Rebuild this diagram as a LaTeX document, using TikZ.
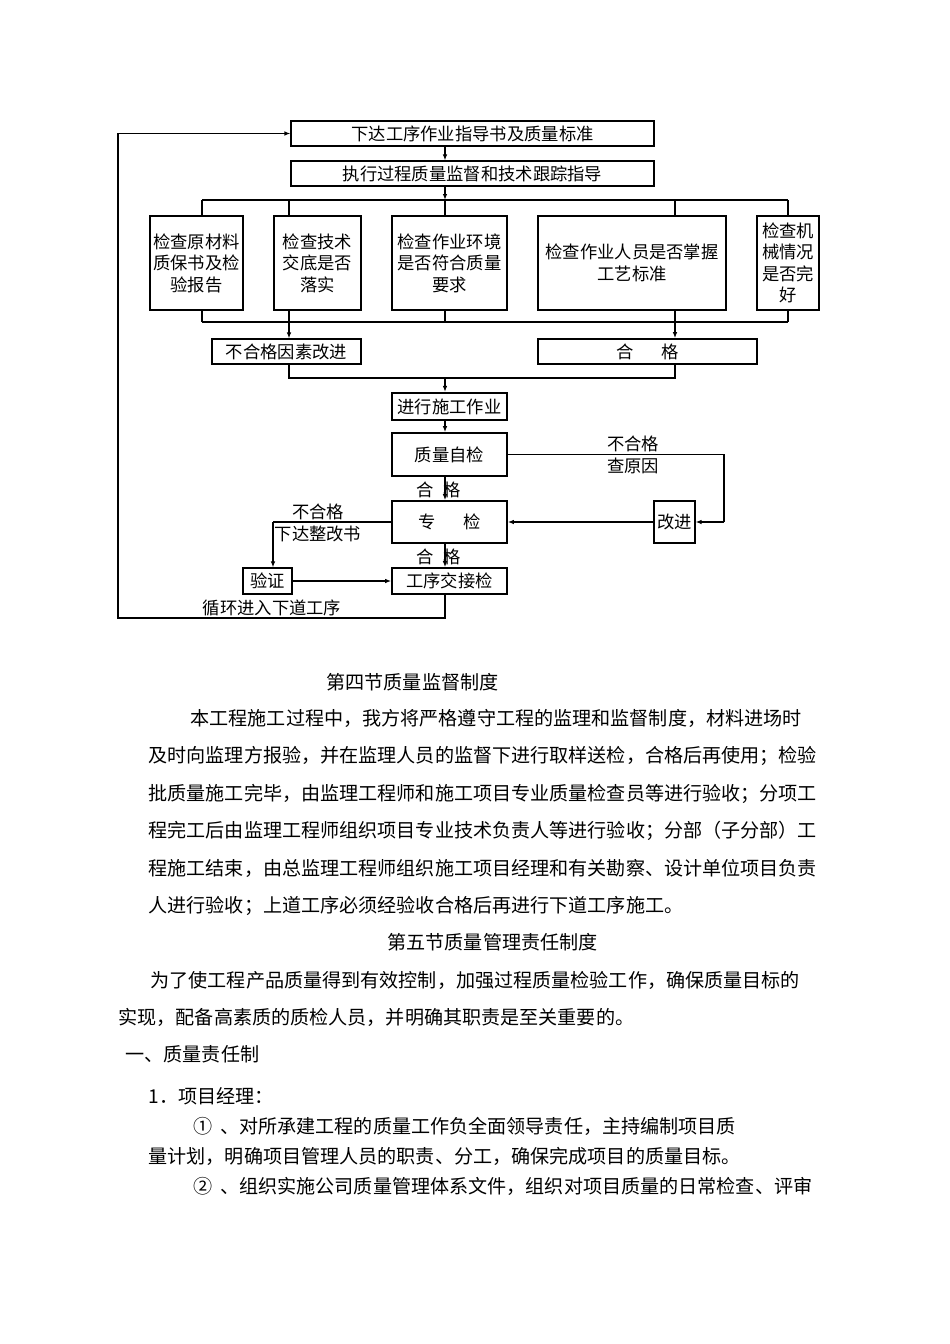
\documentclass[tikz,border=0pt]{standalone}
\usepackage{fontspec}
\newfontfamily\cjk{Noto Sans CJK SC}
\usetikzlibrary{arrows.meta}
\newcommand{\flowfont}{\cjk\fontsize{17.3pt}{21.5pt}\selectfont}
\newcommand{\bodyfont}{\cjk\fontsize{19.1pt}{23pt}\selectfont}

\begin{document}
\begin{tikzpicture}[x=1pt, y=-1pt,
  box/.style={draw, line width=1.1pt, inner sep=0pt, font=\flowfont, align=center},
  chk/.style={box, line width=2.2pt, minimum height=94pt},
  mid/.style={box, line width=1.6pt, minimum width=115pt},
  lbl/.style={font=\flowfont, align=center, inner sep=0pt},
  para/.style={font=\bodyfont, anchor=base west, inner sep=0pt},
  arr/.style={-{Latex[length=6pt, width=4.5pt]}},
  heavy/.style={line width=2pt},
  line width=1.1pt,
]
\fill[white] (0,0) rectangle (950,1344);
\useasboundingbox (0,0) rectangle (950,1344);

% Guide lines
\coordinate (xa) at (202,0);
\coordinate (xb) at (289,0);
\coordinate (spine) at (445,0);
\coordinate (xd) at (675,0);
\coordinate (xe) at (788,0);
\coordinate (xr) at (724,0);
\coordinate (xl) at (273,0);
\coordinate (xloop) at (118,0);
\coordinate (ytop) at (0,200);
\coordinate (ybot) at (0,322);
\coordinate (ymrg) at (0,378);
\coordinate (yloop) at (0,618);

% Instructions
\node[box, minimum width=363pt, minimum height=25pt] (issue) at (472.5,133.5) {下达工序作业指导书及质量标准};
\node[box, minimum width=363pt, minimum height=25pt] (exec) at (472.5,173.5) {执行过程质量监督和技术跟踪指导};

% Check items
\foreach \n/\x/\w/\txt in {
  chkA/196.5/93/{检查原材料\\质保书及检\\验报告},
  chkB/317.5/87/{检查技术\\交底是否\\落实},
  chkC/449.5/115/{检查作业环境\\是否符合质量\\要求},
  chkD/632/188/{检查作业人员是否掌握\\工艺标准},
  chkE/788/62/{检查机\\械情况\\是否完\\好}} {
  \node[chk, minimum width=\w pt] (\n) at (\x,263) {\txt};
}

% Results
\node[box, minimum width=149pt, minimum height=25pt] (fail) at (286.5,351.5) {不合格因素改进};
\node[box, line width=1.6pt, minimum width=219pt, minimum height=25pt] (pass) at (647.5,351.5) {合\hspace{1.6em}格};

% Construction and inspection
\node[box, line width=2.2pt, minimum width=115pt, minimum height=27pt] (work) at (449.5,406.5) {进行施工作业};
\node[mid, minimum height=43pt] (self) at (449.5,454.5) {质量自检};
\node[mid, minimum height=42pt] (spec) at (449.5,522) {专\hspace{1.6em}检};
\node[mid, minimum height=26pt] (hand) at (449.5,581) {工序交接检};
\node[box, minimum width=41pt, minimum height=42pt] (fix) at (674.5,522) {改进};
\node[box, minimum width=49pt, minimum height=26pt] (verify) at (267.5,581) {验证};

% Labels
\node[lbl] (nok1) at (633,455) {不合格\\查原因};
\node[lbl] (nok2) at (318,523) {不合格\\下达整改书};
\node[lbl] (ok1) at (439,490) {合\hspace{0.55em}格};
\node[lbl] (ok2) at (439,557) {合\hspace{0.55em}格};
\node[lbl] (cycle) at (272,608) {循环进入下道工序};

% Top part
\draw[arr] (issue.south -| spine) -- (exec.north -| spine);
\draw[arr] (exec.south -| spine) -- (spine |- ytop);
\draw (xa |- ytop) -- (xe |- ytop);
\draw (xa |- ybot) -- (xe |- ybot);
\foreach \b/\c in {chkA/xa, chkB/xb, chkC/spine, chkD/xd, chkE/xe} {
  \draw (\c |- ytop) -- (\b.north -| \c);
  \draw (\b.south -| \c) -- (\c |- ybot);
}
\draw[arr] (xb |- ybot) -- (fail.north -| xb);
\draw[arr] (xd |- ybot) -- (pass.north -| xd);
\draw (fail.south -| xb) -- (xb |- ymrg) -- (xd |- ymrg) -- (pass.south -| xd);
\draw[arr] (spine |- ymrg) -- (work.north -| spine);

% Inspection chain
\draw[arr] (work.south -| spine) -- (self.north -| spine);
\draw[arr] (self.south -| spine) -- (spec.north -| spine);
\draw[arr] (spec.south -| spine) -- (hand.north -| spine);
\draw (self.east) -- (self.east -| xr) -- (xr |- fix.east);
\draw[arr, heavy] (xr |- fix.east) -- (fix.east);
\draw[arr, heavy] (fix.west) -- (spec.east);
\draw (spec.west) -- (spec.west -| xl);
\draw[arr, heavy] (spec.west -| xl) -- (verify.north -| xl);
\draw[arr, line width=1.5pt] (verify.east) -- (hand.west |- verify.east);
\draw[arr] (hand.south -| spine) -- (spine |- yloop) -- (xloop |- yloop) -- (xloop |- issue.west) -- (issue.west);

% Text
\foreach \n/\x/\y/\txt in {
  h4/326/682/{第四节质量监督制度},
  p1/190/718/{本工程施工过程中，我方将严格遵守工程的监理和监督制度，材料进场时},
  p2/148/755/{及时向监理方报验，并在监理人员的监督下进行取样送检，合格后再使用；检验},
  p3/148/793/{批质量施工完毕，由监理工程师和施工项目专业质量检查员等进行验收；分项工},
  p4/148/830/{程完工后由监理工程师组织项目专业技术负责人等进行验收；分部（子分部）工},
  p5/148/868/{程施工结束，由总监理工程师组织施工项目经理和有关勘察、设计单位项目负责},
  p6/148/905/{人进行验收；上道工序必须经验收合格后再进行下道工序施工。},
  h5/387/942/{第五节质量管理责任制度},
  q1/150/980/{为了使工程产品质量得到有效控制，加强过程质量检验工作，确保质量目标的},
  q2/118/1017/{实现，配备高素质的质检人员，并明确其职责是至关重要的。},
  q3/125/1054/{一、质量责任制},
  q4/148/1096/{1．项目经理：},
  q5/193/1126/{①\hspace{0.4em}、对所承建工程的质量工作负全面领导责任，主持编制项目质},
  q6/148/1156/{量计划，明确项目管理人员的职责、分工，确保完成项目的质量目标。},
  q7/193/1186/{②\hspace{0.4em}、组织实施公司质量管理体系文件，组织对项目质量的日常检查、评审}} {
  \node[para] (\n) at (\x,\y+7.3) {\txt};
}
\end{tikzpicture}
\end{document}
